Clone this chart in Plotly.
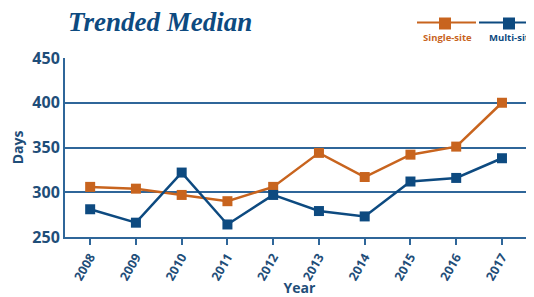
import plotly.graph_objects as go

years = [2008, 2009, 2010, 2011, 2012, 2013, 2014, 2015, 2016, 2017]
single_site = [306, 304, 297, 290, 306, 344, 317, 342, 351, 400]
multi_site = [281, 266, 322, 264, 297, 279, 273, 312, 316, 338]
y_ticks = [250, 300, 350, 400, 450]

ORANGE = "#c8641e"
BLUE = "#0d4a80"
GRID = "#2f6699"
TEXT = "#1f4e79"

# page has an 8px body margin; work in page pixels and convert
OFF = 8
FIG_W, FIG_H = 534 - OFF, 297 - OFF
PLOT_L, PLOT_R, PLOT_T, PLOT_B = 65, 534, 58, 237

fig = go.Figure()
fig.add_trace(go.Scatter(x=years, y=single_site, mode="lines+markers", name="Single-site",
                         line=dict(color=ORANGE, width=2.5),
                         marker=dict(symbol="square", size=10, color=ORANGE)))
fig.add_trace(go.Scatter(x=years, y=multi_site, mode="lines+markers", name="Multi-site",
                         line=dict(color=BLUE, width=2.5),
                         marker=dict(symbol="square", size=10, color=BLUE)))

W = float(PLOT_R - PLOT_L)
H = float(PLOT_B - PLOT_T)
def px(x):
    return (x - PLOT_L) / W
def py(y):
    return (PLOT_B - y) / H

# custom legend (text below the symbol)
legend_items = [("Single-site", ORANGE, 417, 476, 445, 447, "center"),
                ("Multi-site", BLUE, 479, 534, 509, 487, "left")]
for label, col, x0, x1, xm, xt, anchor in legend_items:
    fig.add_shape(type="line", xref="paper", yref="paper", x0=px(x0), x1=px(x1), y0=py(22.5), y1=py(22.5),
                  line=dict(color=col, width=2))
    fig.add_shape(type="rect", xref="paper", yref="paper", x0=px(xm - 6), x1=px(xm + 6),
                  y0=py(29.5), y1=py(17.5), line=dict(width=0), fillcolor=col)
    fig.add_annotation(text=label, xref="paper", yref="paper", x=px(xt), y=py(37),
                       showarrow=False, xanchor=anchor, yanchor="middle",
                       font=dict(family="Open Sans", size=9.5, color=col, weight="bold"))

fig.update_layout(
    width=FIG_W, height=FIG_H,
    margin=dict(l=PLOT_L - OFF, r=FIG_W - (PLOT_R - OFF), t=PLOT_T - OFF, b=FIG_H - (PLOT_B - OFF)),
    paper_bgcolor="white", plot_bgcolor="white",
    showlegend=False,
    title=dict(text="<b><i>Trended Median</i></b>", x=(68 - OFF) / FIG_W, xanchor="left", xref="container",
               y=1 - (22 - OFF) / FIG_H, yanchor="middle", yref="container",
               font=dict(family="Liberation Serif", size=27, color=BLUE)),
    font=dict(family="Open Sans", color=TEXT),
)
fig.update_xaxes(range=[2007.45, 2017.7], tickmode="array", tickvals=years,
                 ticktext=[str(y) for y in years], tickangle=-60,
                 showgrid=False, showline=True, linecolor=GRID, linewidth=2,
                 ticks="outside", ticklen=6, tickwidth=2, tickcolor=GRID,
                 tickfont=dict(size=12.5, color=TEXT, weight="bold"),
                 title=dict(text="Year", font=dict(size=14, color=TEXT, weight="bold"), standoff=2),
                 zeroline=False, automargin=False)
fig.update_yaxes(range=[250, 450], tickmode="array", tickvals=y_ticks,
                 showgrid=True, gridcolor=GRID, gridwidth=2,
                 showline=True, linecolor=GRID, linewidth=2, ticks="", ticklen=0,
                 tickfont=dict(size=16, color=TEXT, weight="bold"),
                 title=dict(text="Days", font=dict(size=14, color=TEXT, weight="bold"), standoff=5),
                 zeroline=False, automargin=False)

fig.write_html("out.html")
